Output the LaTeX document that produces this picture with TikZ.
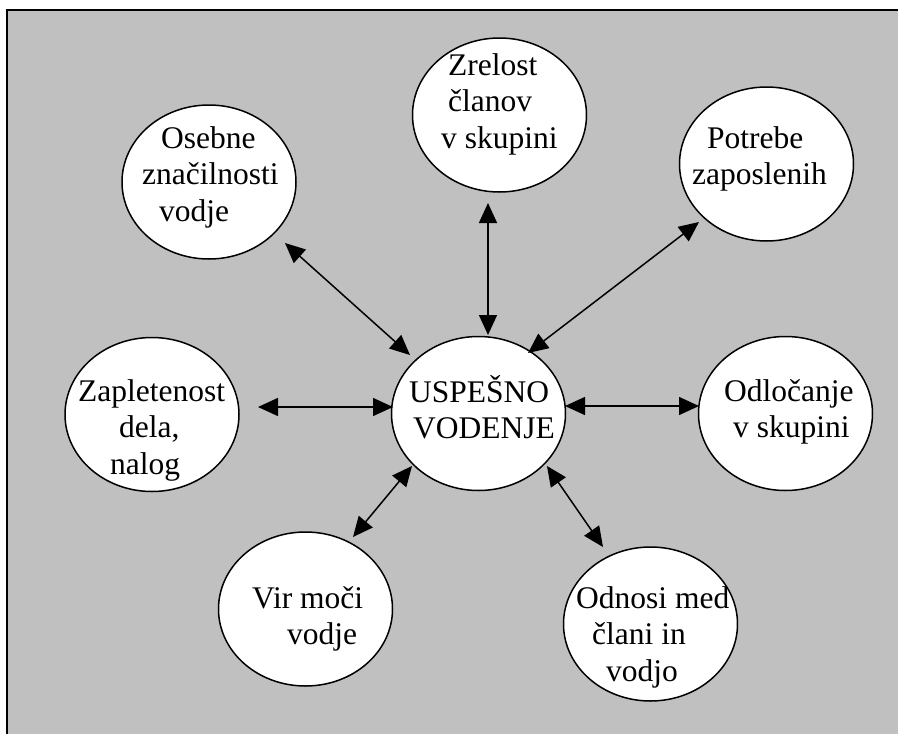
\documentclass[tikz,border=0pt]{standalone}
\usepackage{fontspec}
\setmainfont{Liberation Serif}
\usetikzlibrary{arrows.meta,shapes.geometric}
\definecolor{bggray}{RGB}{192,192,192}
\tikzset{
  bubble/.style={ellipse, draw=black, line width=1.5pt, fill=white, minimum width=174pt, minimum height=154pt, inner sep=0pt},
  txt/.style={inner sep=0pt, align=left, anchor=base west, font=\fontsize{31.5pt}{36.5pt}\selectfont},
  link/.style={line width=1.5pt, {Triangle[length=20pt,width=18pt]}-{Triangle[length=20pt,width=18pt]}}
}
\begin{document}
\begin{tikzpicture}[x=1pt,y=-1pt]
\useasboundingbox (0,0) rectangle (898,734);
\draw[fill=bggray, line width=2pt] (7,10) rectangle (905,745);
% ellipses
\node[bubble] (os) at (209,182) {};
\node[bubble] (zr) at (499.5,115) {};
\node[bubble] (po) at (766.5,164) {};
\node[bubble] (za) at (152,414.5) {};
\node[bubble] (us) at (478.5,413.5) {};
\node[bubble] (od) at (785.5,413.5) {};
\node[bubble] (vi) at (305.5,609) {};
\node[bubble] (on) at (650.5,624) {};
% texts (anchored at the baseline of the last line)
\node[txt] (osT) at (142,221) {\hspace*{19pt}Osebne\\značilnosti\\\hspace*{17pt}vodje};
\node[txt] (zrT) at (441,148) {\hspace*{7pt}Zrelost\\\hspace*{7pt}članov\\v skupini};
\node[txt] (poT) at (692,184.5) {\hspace*{15pt}Potrebe\\zaposlenih};
\node[txt] (zaT) at (78,474) {Zapletenost\\\hspace*{41pt}dela,\\\hspace*{32pt}nalog};
\node[txt] (usT) at (409,438.5) {USPEŠNO\\\hspace*{4pt}VODENJE};
\node[txt] (odT) at (724,437.5) {Odločanje\\\hspace*{9pt}v skupini};
\node[txt] (viT) at (252,644.5) {Vir moči\\\hspace*{35pt}vodje};
\node[txt] (onT) at (576,681) {Odnosi med\\\hspace*{16pt}člani in\\\hspace*{30pt}vodjo};
% connectors
\draw[link] ([shift={(76,61)}]os.center) -- ([shift={(-68.5,-58.5)}]us.center);
\draw[link] ([shift={(-11.5,88)}]zr.center) -- ([shift={(9.5,-78.5)}]us.center);
\draw[link] ([shift={(-67.5,58)}]po.center) -- ([shift={(49.5,-60.5)}]us.center);
\draw[link] ([shift={(106,-7.5)}]za.center) -- ([shift={(-85.5,-6.5)}]us.center);
\draw[link] ([shift={(-86.5,-7.5)}]od.center) -- ([shift={(86.5,-7.5)}]us.center);
\draw[link] ([shift={(47.5,-72)}]vi.center) -- ([shift={(-66.5,52.5)}]us.center);
\draw[link] ([shift={(-47.5,-77)}]on.center) -- ([shift={(68.5,52.5)}]us.center);
\end{tikzpicture}
\end{document}
